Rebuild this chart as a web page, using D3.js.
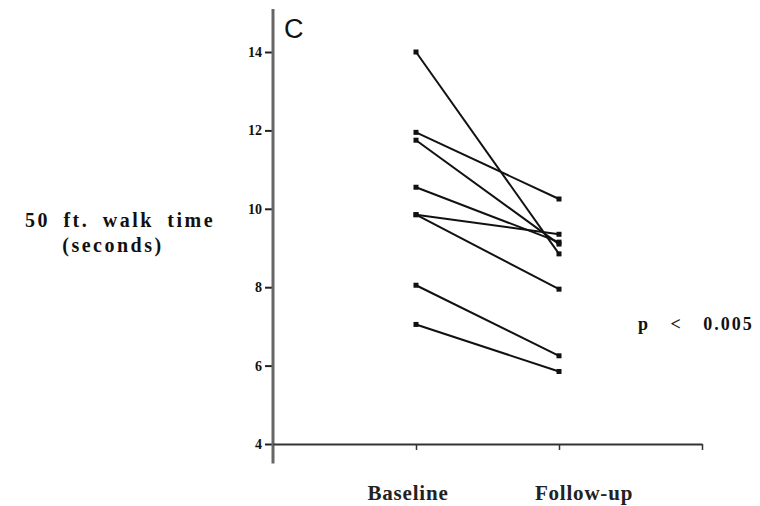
<!DOCTYPE html>
<html>
<head>
<meta charset="utf-8">
<script src="https://cdn.jsdelivr.net/npm/d3@7"></script>
<style>
    body { margin: 0; background: #fff; }
    svg { display: block; }
</style>
</head>
<body>
<svg id="chart" width="760" height="506"></svg>
<script>
// data
const groups = ["Baseline", "Follow-up"];
const baseline = [14.0, 11.95, 11.75, 10.55, 9.85, 9.85, 8.05, 7.05];
const followUp = [8.85, 10.25, 9.1, 9.15, 9.35, 7.95, 6.25, 5.85];
const yTicks = [4, 6, 8, 10, 12, 14];

const svg = d3.select("#chart");

// scales
const x = d3.scaleLinear().domain([0, 3]).range([273, 702]);
const y = d3.scaleLinear().domain([4, 14]).range([444, 52]);

const serif = "'Liberation Serif', 'DejaVu Serif', serif";

// y axis
const yAxis = svg
    .append("g")
    .attr("transform", "translate(" + x(0) + ",0)")
    .call(d3.axisLeft(y).tickValues(yTicks).tickSize(8).tickPadding(3));
yAxis.select(".domain").remove();
yAxis.selectAll(".tick line").attr("stroke", "#222").attr("stroke-width", 2);
yAxis
    .selectAll(".tick text")
    .style("font-family", serif)
    .style("font-weight", "bold")
    .style("font-size", "14px")
    .attr("fill", "#111");

// long vertical axis line
svg.append("line")
    .attr("x1", x(0))
    .attr("x2", x(0))
    .attr("y1", y(15.1))
    .attr("y2", y(3.5))
    .attr("stroke", "#666")
    .attr("stroke-width", 3);

// x axis
const xAxis = svg
    .append("g")
    .attr("transform", "translate(0," + y(4) + ")")
    .call(
        d3.axisBottom(x)
            .tickValues([1, 2, 3])
            .tickSize(6)
            .tickSizeOuter(0)
            .tickFormat(() => "")
    );
xAxis.select(".domain").attr("stroke", "#333").attr("stroke-width", 1.8);
xAxis.selectAll(".tick line").attr("stroke", "#333").attr("stroke-width", 1.5);

// category labels (shifted like the printed figure)
const labelShift = [-8, 25];
svg.append("g")
    .selectAll("text")
    .data(groups)
    .enter()
    .append("text")
    .attr("x", (d, i) => x(i + 1) + labelShift[i])
    .attr("y", 500)
    .attr("text-anchor", "middle")
    .style("font-family", serif)
    .style("font-weight", "bold")
    .style("font-size", "21px")
    .style("letter-spacing", "0.8px")
    .attr("fill", "#222")
    .text((d) => d);

// paired lines
const pairs = baseline.map((b, i) => [b, followUp[i]]);
svg.append("g")
    .selectAll("line")
    .data(pairs)
    .enter()
    .append("line")
    .attr("x1", x(1))
    .attr("x2", x(2))
    .attr("y1", (d) => y(d[0]))
    .attr("y2", (d) => y(d[1]))
    .attr("stroke", "#111")
    .attr("stroke-width", 2);

// end points
const dots = [];
pairs.forEach((d) => {
    dots.push([1, d[0]]);
    dots.push([2, d[1]]);
});
svg.append("g")
    .selectAll("rect")
    .data(dots)
    .enter()
    .append("rect")
    .attr("x", (d) => x(d[0]) - 2.5)
    .attr("y", (d) => y(d[1]) - 2.5)
    .attr("width", 5)
    .attr("height", 5)
    .attr("fill", "#111");

// panel letter
svg.append("text")
    .attr("x", 284)
    .attr("y", 38)
    .style("font-family", "'Liberation Sans', Arial, sans-serif")
    .style("font-size", "27px")
    .attr("fill", "#111")
    .text("C");

// y title
svg.append("text")
    .attr("x", 120)
    .attr("y", 227)
    .attr("text-anchor", "middle")
    .style("font-family", serif)
    .style("font-weight", "bold")
    .style("font-size", "20px")
    .style("letter-spacing", "2.5px")
    .style("word-spacing", "6px")
    .attr("fill", "#111")
    .text("50 ft. walk time");
svg.append("text")
    .attr("x", 113)
    .attr("y", 252)
    .attr("text-anchor", "middle")
    .style("font-family", serif)
    .style("font-weight", "bold")
    .style("font-size", "20px")
    .style("letter-spacing", "2.5px")
    .attr("fill", "#111")
    .text("(seconds)");

// significance
svg.append("text")
    .attr("x", 638)
    .attr("y", 330)
    .style("font-family", serif)
    .style("font-weight", "bold")
    .style("font-size", "18px")
    .style("letter-spacing", "2px")
    .style("word-spacing", "14px")
    .attr("fill", "#111")
    .text("p < 0.005");
</script>
</body>
</html>
